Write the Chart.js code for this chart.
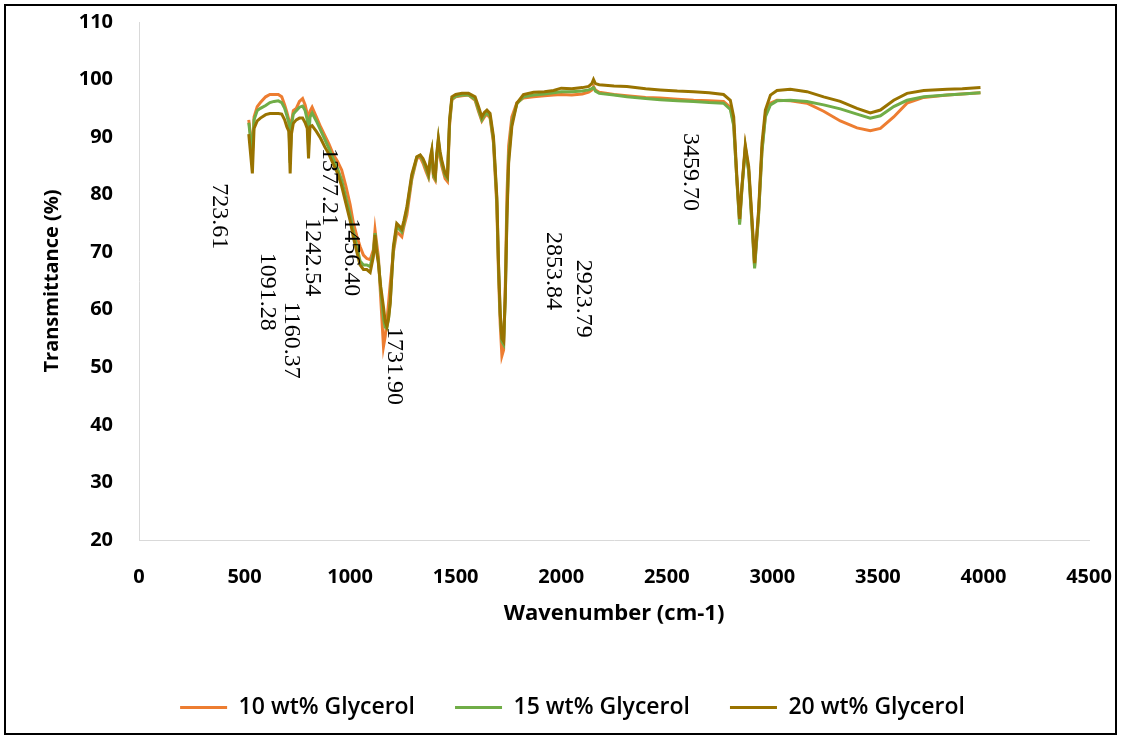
<!DOCTYPE html>
<html>
<head>
<meta charset="utf-8">
<script src="https://cdn.jsdelivr.net/npm/chart.js@4.4.0/dist/chart.umd.min.js"></script>
<style>
  html, body { margin: 0; padding: 0; background: #fff; }
  #wrap { position: relative; width: 1121px; height: 738px; }
  #frame { position: absolute; left: 4px; top: 4px; right: 4px; bottom: 3px; border: 2px solid #000; pointer-events: none; }
  canvas { position: absolute; left: 0; top: 0; }
</style>
</head>
<body>
<div id="wrap">
  <canvas id="ftir" width="1121" height="738"></canvas>
  <div id="frame"></div>
</div>
<script>
// wavenumber (cm-1) shared by the three spectra
const wavenumbers = [
  520, 537, 545, 560, 575, 600, 620, 640, 660, 676, 690, 700, 710, 716, 722, 731, 745, 760, 775, 787,
  797, 803, 810, 820, 840, 860, 880, 900, 920, 940, 960, 980, 1000, 1016, 1032, 1047, 1063, 1079, 1095, 1110,
  1118, 1126, 1134, 1145, 1158, 1166, 1174, 1182, 1190, 1205, 1221, 1237, 1245, 1255, 1269, 1292, 1316, 1332, 1345, 1360,
  1371, 1380, 1387, 1395, 1403, 1410, 1418, 1426, 1434, 1450, 1461, 1471, 1482, 1500, 1530, 1561, 1592, 1608, 1624, 1636,
  1648, 1663, 1679, 1695, 1703, 1711, 1719, 1727, 1735, 1743, 1751, 1766, 1790, 1821, 1869, 1920, 1964, 2000, 2050, 2100,
  2130, 2145, 2153, 2162, 2180, 2250, 2311, 2400, 2469, 2550, 2627, 2700, 2769, 2801, 2817, 2832, 2845, 2856, 2872, 2888,
  2904, 2916, 2935, 2951, 2967, 2991, 3022, 3085, 3164, 3243, 3322, 3401, 3464, 3512, 3575, 3638, 3717, 3828, 3900, 3986
];

const glycerol10 = [
  93.0, 87.5, 93.5, 95.3, 96.0, 97.0, 97.4, 97.4, 97.4, 97.0, 95.6, 94.4, 93.0, 86.0, 92.5, 94.6, 95.0, 96.2, 96.7, 95.6,
  94.0, 90.5, 94.5, 95.2, 93.5, 91.8, 90.3, 88.8, 87.0, 85.8, 84.3, 81.5, 78.3, 75.0, 72.8, 71.0, 69.5, 68.9, 68.7, 70.4,
  73.9, 71.5, 69.2, 62.0, 53.6, 55.3, 58.0, 61.1, 64.5, 70.0, 73.5, 73.0, 72.7, 74.5, 76.5, 82.6, 86.3, 86.5, 85.5, 84.0,
  83.0, 85.5, 87.0, 83.0, 82.5, 86.0, 89.0, 86.5, 85.0, 82.8, 82.3, 92.0, 96.5, 97.0, 97.2, 97.3, 96.4, 94.5, 92.8, 93.5,
  94.0, 93.3, 89.0, 78.0, 66.0, 57.5, 52.0, 53.0, 64.0, 80.0, 88.5, 93.5, 96.0, 96.8, 97.0, 97.2, 97.3, 97.4, 97.3, 97.5,
  97.8, 98.2, 98.8, 98.2, 97.8, 97.4, 97.2, 96.9, 96.8, 96.6, 96.4, 96.3, 96.2, 95.2, 92.3, 82.5, 75.2, 81.2, 88.3, 84.3,
  74.8, 67.5, 76.8, 87.8, 93.8, 95.9, 96.4, 96.3, 95.9, 94.5, 92.8, 91.6, 91.1, 91.5, 93.5, 95.9, 96.9, 97.3, 97.5, 97.7
];

const glycerol15 = [
  92.5, 87.0, 93.0, 94.6, 95.0, 95.5, 96.0, 96.2, 96.3, 96.0, 95.0, 93.8, 92.5, 85.5, 92.0, 94.0, 94.6, 95.2, 95.4, 94.6,
  93.0, 88.5, 93.5, 94.2, 92.8, 91.2, 89.6, 88.0, 86.2, 84.6, 82.5, 79.5, 76.5, 73.5, 71.0, 68.5, 67.8, 67.8, 67.5, 69.8,
  73.3, 70.3, 68.5, 63.5, 58.5, 57.0, 56.8, 58.5, 61.5, 70.5, 74.5, 73.8, 73.5, 75.0, 77.5, 83.0, 86.5, 86.8, 86.0, 84.5,
  83.3, 86.0, 87.5, 83.3, 82.8, 86.5, 89.5, 87.0, 85.5, 83.3, 82.8, 92.5, 96.6, 97.1, 97.3, 97.3, 96.6, 94.8, 93.0, 93.8,
  94.2, 93.6, 89.5, 79.0, 67.5, 59.0, 54.5, 54.0, 62.0, 77.0, 86.5, 92.5, 95.8, 97.0, 97.3, 97.5, 97.7, 97.9, 97.9, 98.0,
  98.2, 98.4, 98.6, 98.0, 97.6, 97.3, 97.0, 96.7, 96.5, 96.3, 96.2, 96.0, 95.9, 94.8, 92.0, 82.5, 74.8, 81.0, 88.0, 84.0,
  74.5, 67.2, 76.5, 87.5, 93.5, 95.6, 96.3, 96.4, 96.2, 95.6, 94.9, 94.0, 93.3, 93.7, 95.3, 96.4, 97.0, 97.3, 97.5, 97.7
];

const glycerol20 = [
  90.5, 83.7, 91.5, 92.8, 93.3, 93.9, 94.1, 94.1, 94.1, 94.0, 93.0, 91.8, 91.0, 83.7, 90.5, 92.4, 93.0, 93.3, 93.3, 92.5,
  91.5, 86.3, 91.8, 92.0, 91.0, 89.8, 88.3, 87.0, 85.3, 83.8, 81.5, 78.5, 75.5, 72.5, 70.0, 67.8, 67.0, 67.0, 66.5, 69.2,
  73.0, 70.0, 68.1, 64.0, 60.5, 58.0, 57.1, 58.5, 61.1, 71.0, 75.0, 74.4, 74.0, 75.5, 77.9, 83.5, 86.6, 86.9, 86.3, 85.0,
  83.7, 86.5, 87.8, 83.7, 83.1, 87.0, 89.8, 87.5, 86.0, 83.7, 83.1, 93.0, 97.0, 97.4, 97.6, 97.6, 97.0, 95.3, 93.5, 94.3,
  94.7, 94.1, 90.1, 79.6, 68.0, 59.4, 55.0, 54.5, 62.3, 76.0, 85.5, 91.8, 95.9, 97.4, 97.8, 97.9, 98.1, 98.5, 98.4, 98.6,
  98.8, 99.3, 100.0, 99.3, 99.1, 98.9, 98.8, 98.4, 98.2, 98.0, 97.9, 97.7, 97.4, 96.4, 93.5, 83.1, 75.8, 81.4, 88.6, 84.9,
  75.6, 68.1, 77.3, 88.9, 94.7, 97.3, 98.1, 98.3, 97.9, 97.0, 96.2, 95.0, 94.2, 94.7, 96.4, 97.6, 98.1, 98.3, 98.4, 98.6
];

const seriesNames = ['10 wt% Glycerol', '15 wt% Glycerol', '20 wt% Glycerol'];
const seriesColors = ['#ED7D31', '#70AD47', '#997300'];

// band assignments written on the plot (text, wavenumber, % where the text starts)
const peakLabels = ['723.61', '1091.28', '1160.37', '1242.54', '1377.21', '1456.40', '1731.90', '2853.84', '2923.79', '3459.70'];
const peakLabelX = [379, 606, 720, 819, 900, 1004, 1208, 1961, 2103, 2610];
const peakLabelY = [82.0, 69.9, 61.4, 75.9, 88.1, 75.9, 57.0, 73.5, 68.7, 90.7];

const toPoints = ys => wavenumbers.map((w, i) => ({ x: w, y: ys[i] }));

const peakLabelPlugin = {
  id: 'peakLabels',
  afterDatasetsDraw(chart) {
    const { ctx, scales: { x, y } } = chart;
    ctx.save();
    ctx.font = '24px "Liberation Serif"';
    ctx.fillStyle = '#000';
    ctx.textAlign = 'left';
    ctx.textBaseline = 'middle';
    peakLabels.forEach((txt, i) => {
      ctx.save();
      ctx.translate(x.getPixelForValue(peakLabelX[i]), y.getPixelForValue(peakLabelY[i]));
      ctx.rotate(Math.PI / 2);
      ctx.fillText(txt, 0, 0);
      ctx.restore();
    });
    ctx.restore();
  }
};

// legend in the original sits a little right of the canvas centre
const legendNudge = {
  id: 'legendNudge',
  afterLayout(chart) {
    if (!chart.legend) return;
    chart.legend.left += 12;
    chart.legend.right += 12;
  }
};

const allSeries = [glycerol10, glycerol15, glycerol20];
const plainNumber = v => String(v);

new Chart(document.getElementById('ftir'), {
  type: 'line',
  data: {
    datasets: allSeries.map((ys, i) => ({
      label: seriesNames[i],
      data: toPoints(ys),
      borderColor: seriesColors[i],
      backgroundColor: seriesColors[i],
      borderWidth: 3,
      pointRadius: 0,
      tension: 0,
      order: allSeries.length - i
    }))
  },
  options: {
    responsive: false,
    animation: false,
    devicePixelRatio: 1,
    layout: { padding: { left: 32, right: 32, top: 22, bottom: 9 } },
    plugins: {
      tooltip: { enabled: false },
      legend: {
        position: 'bottom',
        labels: {
          usePointStyle: true,
          pointStyle: 'line',
          pointStyleWidth: 47,
          padding: 40,
          color: '#000',
          font: { family: "'Open Sans'", size: 23, weight: '600' },
          sort: (a, b) => a.datasetIndex - b.datasetIndex
        }
      }
    },
    scales: {
      x: {
        type: 'linear',
        min: 0,
        max: 4500,
        afterFit: s => { s.height = 116; },
        // invisible tick marks push the labels away from the axis
        grid: { display: false, drawTicks: true, tickLength: 22 },
        border: { display: true, color: '#d9d9d9', width: 1 },
        ticks: {
          stepSize: 500,
          padding: 3,
          maxRotation: 0,
          color: '#000',
          callback: plainNumber,
          font: { family: "'Open Sans'", size: 20, weight: 'bold' }
        },
        title: {
          display: true,
          text: 'Wavenumber (cm-1)',
          color: '#000',
          font: { family: "'Open Sans'", size: 22, weight: 'bold' },
          padding: { top: 0, bottom: 29 }
        }
      },
      y: {
        min: 20,
        max: 110,
        afterFit: s => { s.width = 107; },
        grid: { display: false, drawTicks: true, tickLength: 23 },
        border: { display: true, color: '#d9d9d9', width: 1 },
        ticks: {
          stepSize: 10,
          padding: 3,
          color: '#000',
          callback: plainNumber,
          font: { family: "'Open Sans'", size: 20, weight: 'bold' }
        },
        title: {
          display: true,
          text: 'Transmittance (%)',
          color: '#000',
          font: { family: "'Open Sans'", size: 20, weight: 'bold' },
          padding: { top: 8, bottom: 0 }
        }
      }
    }
  },
  plugins: [peakLabelPlugin, legendNudge]
});
</script>
</body>
</html>
